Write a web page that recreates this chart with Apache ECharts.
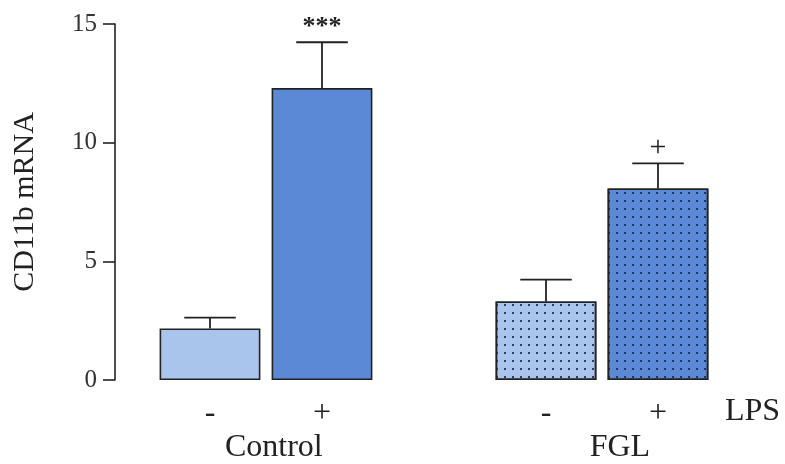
<!DOCTYPE html>
<html>
<head>
<meta charset="utf-8">
<script src="https://cdn.jsdelivr.net/npm/echarts@6/dist/echarts.min.js"></script>
<style>
  html, body { margin: 0; padding: 0; background: #fff; }
  #chart { width: 785px; height: 464px; }
</style>
</head>
<body>
<div id="chart"></div>
<script>
// CD11b mRNA: Control / FGL, -/+ LPS
const lpsLabels = ['-', '+', '', '-', '+'];
const groupNames = ['Control', 'FGL'];
const means = [2.17, 12.3, null, 3.31, 8.07];
const errors = [0.46, 1.93, null, 0.92, 1.06];
const signif = ['', '***', '', '', '+'];
const yTicks = [0, 5, 10, 15];

const FONT = 'Liberation Serif';
const LIGHT = '#a9c5ec';
const DARK = '#5b89d5';
const EDGE = '#222222';

// ラベル位置（値軸上）
const groupLabelAt = [0.57, 3.66];

const dotted = {
  symbol: 'rect',
  symbolSize: 1,
  color: 'rgba(30, 38, 70, 0.85)',
  dashArrayX: [2, 6],
  dashArrayY: [2, 6],
  rotation: 0
};

const barData = means.map((v, i) => {
  if (v == null) return null;
  const isPlus = lpsLabels[i] === '+';
  const isFGL = i > 2;
  return {
    value: v,
    itemStyle: {
      color: isPlus ? DARK : LIGHT,
      borderColor: EDGE,
      borderWidth: 1.6,
      decal: isFGL ? dotted : null
    }
  };
});

const errData = [];
means.forEach((v, i) => {
  if (v != null) errData.push([i, v, errors[i], signif[i]]);
});

const chart = echarts.init(document.getElementById('chart'));

const option = {
  backgroundColor: '#ffffff',
  animation: false,
  grid: { left: 154, right: 71, top: 24, bottom: 82 },
  xAxis: [
    {
      type: 'category',
      data: lpsLabels,
      axisLine: { show: false },
      axisTick: { show: false },
      axisLabel: {
        margin: 18,
        fontFamily: FONT,
        fontSize: 32,
        color: '#222'
      },
      name: 'LPS',
      nameLocation: 'end',
      nameGap: 11,
      nameTextStyle: {
        fontFamily: FONT,
        fontSize: 32,
        color: '#222',
        verticalAlign: 'top',
        padding: [16, 0, 0, 0]
      }
    },
    {
      type: 'value',
      min: -0.5,
      max: 4.5,
      position: 'bottom',
      axisLine: { show: false, onZero: false },
      axisTick: { show: false },
      splitLine: { show: false },
      axisLabel: {
        customValues: groupLabelAt,
        margin: 52,
        fontFamily: FONT,
        fontSize: 32,
        color: '#222',
        formatter: v => {
          const k = groupLabelAt.findIndex(p => Math.abs(p - v) < 1e-6);
          return k >= 0 ? groupNames[k] : '';
        }
      }
    }
  ],
  yAxis: {
    type: 'value',
    min: 0,
    max: 15,
    interval: 5,
    offset: 39,
    name: 'CD11b mRNA',
    nameLocation: 'middle',
    nameGap: 75,
    nameTextStyle: { fontFamily: FONT, fontSize: 30, color: '#222' },
    axisLine: { show: true, onZero: false, lineStyle: { color: EDGE, width: 1.6 } },
    axisTick: { show: true, length: 12, lineStyle: { color: EDGE, width: 1.6 } },
    axisLabel: {
      margin: 18,
      fontFamily: FONT,
      fontSize: 25,
      color: '#333',
      customValues: yTicks
    },
    splitLine: { show: false }
  },
  series: [
    {
      type: 'bar',
      xAxisIndex: 0,
      data: barData,
      barCategoryGap: '10%'
    },
    {
      type: 'custom',
      xAxisIndex: 0,
      data: errData,
      z: 5,
      renderItem: (params, api) => {
        const i = api.value(0);
        const m = api.value(1);
        const e = api.value(2);
        const mark = signif[i];
        const base = api.coord([i, m]);
        const top = api.coord([i, m + e]);
        const half = api.size([1, 0])[0] * 0.23;
        const line = { stroke: EDGE, lineWidth: 1.8 };
        const children = [
          { type: 'line', shape: { x1: base[0], y1: base[1], x2: top[0], y2: top[1] }, style: line },
          { type: 'line', shape: { x1: top[0] - half, y1: top[1], x2: top[0] + half, y2: top[1] }, style: line }
        ];
        if (mark) {
          const stars = mark === '***';
          children.push({
            type: 'text',
            x: top[0],
            y: top[1] - (stars ? 2 : 0),
            style: {
              text: mark,
              align: 'center',
              verticalAlign: 'bottom',
              fontFamily: FONT,
              fontWeight: stars ? 'bold' : 'normal',
              fontSize: stars ? 26 : 30,
              fill: '#222'
            }
          });
        }
        return { type: 'group', children };
      }
    }
  ]
};

chart.setOption(option);
</script>
</body>
</html>
